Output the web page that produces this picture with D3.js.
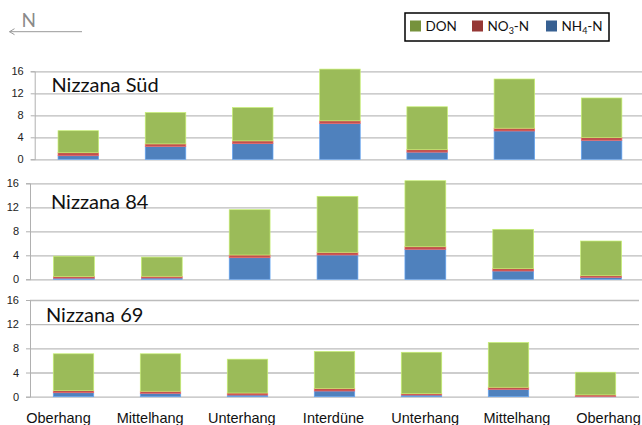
<!DOCTYPE html>
<html>
<head>
<meta charset="utf-8">
<script src="https://cdn.jsdelivr.net/npm/d3@7"></script>
<style>
  body { margin: 0; background: #fff; }
  svg { display: block; font-family: Lato, "Open Sans", sans-serif; }
</style>
</head>
<body>
<div id="chart"></div>
<script>
// categories along the transect (west -> east)
const categories = ["Oberhang", "Mittelhang", "Unterhang", "Interdüne", "Unterhang ", "Mittelhang ", "Oberhang "];
const categoryLabels = ["Oberhang", "Mittelhang", "Unterhang", "Interdüne", "Unterhang", "Mittelhang", "Oberhang"];
const yTicks = [0, 4, 8, 12, 16];
const seriesNames = ["NH4-N", "NO3-N", "DON"];

// Nizzana Süd
const nh4Sued = [0.65, 2.35, 2.85, 6.5, 1.3, 5.15, 3.45];
const no3Sued = [0.55, 0.45, 0.5, 0.5, 0.45, 0.5, 0.5];
const donSued = [4.0, 5.7, 6.05, 9.4, 7.8, 8.95, 7.2];

// Nizzana 84
const nh484 = [0.2, 0.22, 3.6, 4.05, 5.0, 1.38, 0.33];
const no384 = [0.25, 0.28, 0.45, 0.45, 0.43, 0.39, 0.27];
const don84 = [3.4, 3.2, 7.55, 9.33, 11.0, 6.56, 5.78];

// Nizzana 69
const nh469 = [0.66, 0.56, 0.28, 0.94, 0.28, 1.22, 0.05];
const no369 = [0.34, 0.34, 0.33, 0.44, 0.22, 0.34, 0.25];
const don69 = [6.1, 6.2, 5.6, 6.1, 6.85, 7.4, 3.75];

const width = 642, height = 425;
const colors = { "NH4-N": "#4f81bd", "NO3-N": "#c0504d", "DON": "#9bbb59" };
const legendColors = { "NH4-N": "#376092", "NO3-N": "#953735", "DON": "#76923c" };

// panel layout
const panels = [
    { name: "Nizzana Süd", nh4: nh4Sued, no3: no3Sued, don: donSued, x0: 34.7, w: 610.5, yTop: 71.3, yZero: 159.3, tx: 51.5, ty: 91.7 },
    { name: "Nizzana 84", nh4: nh484, no3: no384, don: don84, x0: 30, w: 615, yTop: 183.3, yZero: 279.3, tx: 51, ty: 209 },
    { name: "Nizzana 69", nh4: nh469, no3: no369, don: don69, x0: 30, w: 609, yTop: 300, yZero: 396.7, tx: 46, ty: 321.7 }
];

const svg = d3.select("#chart")
    .append("svg")
    .attr("width", width)
    .attr("height", height);

panels.forEach(p => {
    var x = d3.scaleBand()
        .domain(categories)
        .range([p.x0, p.x0 + p.w])
        .paddingInner(0.535)
        .paddingOuter(0.2675);

    var y = d3.scaleLinear()
        .domain([0, 16])
        .range([p.yZero, p.yTop]);

    var g = svg.append("g");

    // gridlines
    g.append("g")
        .attr("transform", "translate(" + p.x0 + ",0)")
        .call(d3.axisLeft(y).tickValues(yTicks).tickSize(-p.w).tickFormat(""))
        .call(a => a.select(".domain").remove())
        .call(a => a.selectAll("line").attr("stroke", "#bcbcbc").attr("stroke-width", 1.3));

    // y axis
    g.append("g")
        .attr("transform", "translate(" + p.x0 + ",0)")
        .call(d3.axisLeft(y).tickValues(yTicks).tickSize(4).tickPadding(7))
        .call(a => a.select(".domain").attr("stroke", "#b0b0b0"))
        .call(a => a.selectAll("line").attr("stroke", "#b0b0b0"))
        .call(a => a.selectAll("text").attr("font-size", 11).attr("fill", "#222"));

    // stack data
    var rows = categories.map((c, i) => ({ cat: c, "NH4-N": p.nh4[i], "NO3-N": p.no3[i], "DON": p.don[i] }));
    var stacked = d3.stack().keys(seriesNames)(rows);

    g.selectAll(".layer")
        .data(stacked)
        .enter()
        .append("g")
        .attr("fill", d => colors[d.key])
        .attr("stroke", d => d3.color(colors[d.key]).brighter(0.7))
        .attr("stroke-width", 0.7)
        .selectAll("rect")
        .data(d => d)
        .enter()
        .append("rect")
        .attr("x", d => x(d.data.cat))
        .attr("width", x.bandwidth())
        .attr("y", d => y(d[1]))
        .attr("height", d => y(d[0]) - y(d[1]));

    // panel title
    g.append("text")
        .attr("x", p.tx)
        .attr("y", p.ty)
        .attr("font-size", 20)
        .attr("fill", "#111")
        .text(p.name);
});

// category labels along the bottom
var xl = d3.scalePoint()
    .domain(categories)
    .range([58, 608]);
svg.append("g")
    .attr("transform", "translate(0,410)")
    .call(d3.axisBottom(xl).tickSize(0).tickPadding(3).tickFormat((d, i) => categoryLabels[i]))
    .call(a => a.select(".domain").remove())
    .call(a => a.selectAll("text").attr("font-size", 14.5).attr("fill", "#111"));

// north arrow
svg.append("text")
    .attr("x", 21.5)
    .attr("y", 26.7)
    .attr("font-size", 19)
    .attr("fill", "#8a8a8a")
    .text("N");
svg.append("line")
    .attr("x1", 9.5).attr("x2", 82)
    .attr("y1", 31.7).attr("y2", 31.7)
    .attr("stroke", "#999")
    .attr("stroke-width", 1);
svg.append("path")
    .attr("d", "M14.5,28.7 L9.5,31.7 L14.5,34.7")
    .attr("fill", "none")
    .attr("stroke", "#999")
    .attr("stroke-width", 1);

// legend
var legend = svg.append("g");
legend.append("rect")
    .attr("x", 405).attr("y", 13)
    .attr("width", 204).attr("height", 28)
    .attr("fill", "#fff")
    .attr("stroke", "#000")
    .attr("stroke-width", 1.5);

const legendItems = [
    { key: "DON", x: 410, base: "DON", sub: null },
    { key: "NO3-N", x: 472, base: "NO", sub: "3" },
    { key: "NH4-N", x: 546, base: "NH", sub: "4" }
];
legendItems.forEach(it => {
    legend.append("rect")
        .attr("x", it.x).attr("y", 20.5)
        .attr("width", 11).attr("height", 11)
        .attr("fill", legendColors[it.key]);
    var t = legend.append("text")
        .attr("x", it.x + 15.5)
        .attr("y", 31)
        .attr("font-size", 13.5)
        .attr("fill", "#111");
    t.append("tspan").text(it.base);
    if (it.sub) {
        t.append("tspan").attr("font-size", 9).attr("dy", 3).text(it.sub);
        t.append("tspan").attr("dy", -3).text("-N");
    }
});
</script>
</body>
</html>
